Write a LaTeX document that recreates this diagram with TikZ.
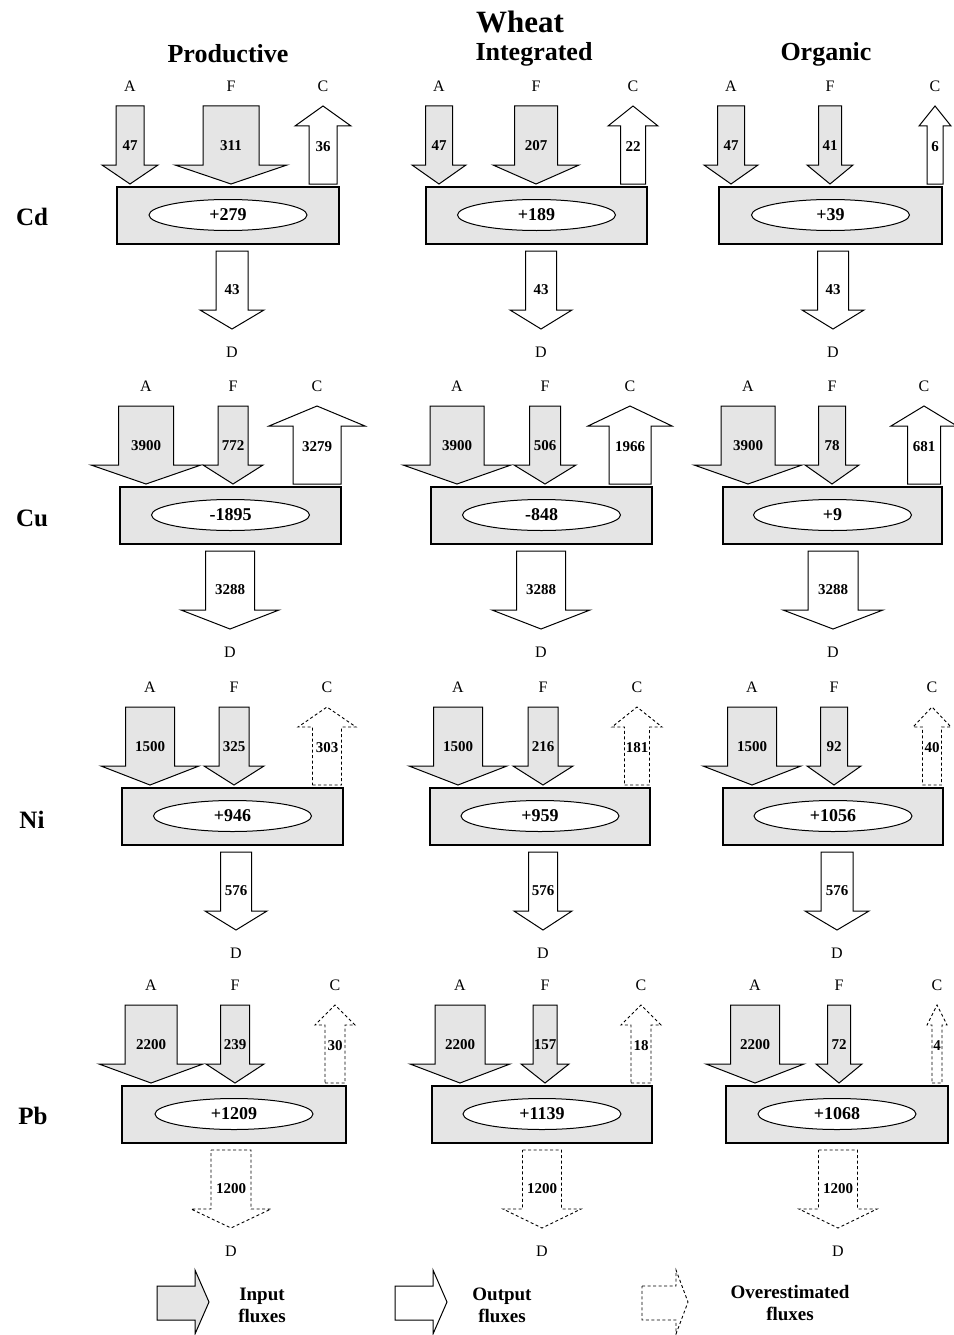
\documentclass[tikz,border=0pt]{standalone}
\usepackage{fontspec}
\setmainfont{Liberation Serif}
\usetikzlibrary{shapes.geometric}

\tikzset{
  influx/.style={draw, line width=1pt, fill=gray!20},
  outflux/.style={draw, line width=1pt, fill=white},
  overflux/.style={draw, line width=0.9pt, dash pattern=on 3pt off 2.5pt, fill=white},
  soil/.style={draw, line width=1.2pt, fill=gray!20},
  balance/.style={ellipse, draw, line width=1pt, fill=white, minimum width=158pt,
    minimum height=31pt, inner sep=0pt, font=\bfseries\fontsize{18}{20}\selectfont},
  fluxval/.style={inner sep=0pt, font=\bfseries\fontsize{15}{17}\selectfont},
  fluxname/.style={inner sep=0pt, font=\fontsize{16}{18}\selectfont},
  metal/.style={inner sep=0pt, font=\bfseries\fontsize{25}{28}\selectfont},
  system/.style={inner sep=0pt, font=\bfseries\fontsize{26}{29}\selectfont},
  legendtext/.style={align=center, inner sep=0pt, font=\bfseries\fontsize{19}{22}\selectfont}
}

% input flux from above: name, letter, x, shaft half width, row top, value
\newcommand{\fluxin}[6]{%
  \draw[influx] (#3-#4,#5) -- (#3+#4,#5) -- (#3+#4,#5+59) -- (#3+2*#4,#5+59)
    -- (#3,#5+78) -- (#3-2*#4,#5+59) -- (#3-#4,#5+59) -- cycle;
  \node[fluxval] (#1) at (#3,#5+40) {#6};
  \node[fluxname] (#1l) at (#3,#5-20) {#2};}
% crop output, going up: style, name, x, shaft half width, row top, value
\newcommand{\fluxup}[6]{%
  \draw[#1] (#3-#4,#5+78) -- (#3+#4,#5+78) -- (#3+#4,#5+20) -- (#3+2*#4,#5+20)
    -- (#3,#5) -- (#3-2*#4,#5+20) -- (#3-#4,#5+20) -- cycle;
  \node[fluxval] (#2) at (#3,#5+41) {#6};
  \node[fluxname] (#2l) at (#3,#5-20) {C};}
% drainage, going down: style, name, x, shaft half width, row top, value
\newcommand{\fluxdrain}[6]{%
  \draw[#1] (#3-#4,#5+145) -- (#3+#4,#5+145) -- (#3+#4,#5+204) -- (#3+2*#4,#5+204)
    -- (#3,#5+223) -- (#3-2*#4,#5+204) -- (#3-#4,#5+204) -- cycle;
  \node[fluxval] (#2) at (#3,#5+184) {#6};
  \node[fluxname] (#2l) at (#3,#5+246) {D};}
% soil box with balance: name, left, right, row top, balance
\newcommand{\soil}[5]{%
  \draw[soil] (#2,#4+81) rectangle (#3,#4+138);
  \node[balance] (#1) at ({(#2+#3)/2},#4+109) {#5};}

\begin{document}
\begin{tikzpicture}[x=1pt,y=-1pt]
\useasboundingbox (0,0) rectangle (953,1335);

\node[system] (wheat) at (520,22) {\fontsize{31}{34}\selectfont Wheat};
\node[system] (prod) at (228,54) {Productive};
\node[system] (integ) at (534,54) {Integrated};
\node[system] (org) at (826,54) {Organic};

\node[metal] (cd) at (32,217) {Cd};
\node[metal] (cu) at (32,518) {Cu};
\node[metal] (ni) at (32,820) {Ni};
\node[metal] (pb) at (33,1116) {Pb};

% Cd
\soil{bal11}{117}{339}{106}{+279}
\fluxin{a11}{A}{130}{14}{106}{47}
\fluxin{f11}{F}{231}{28}{106}{311}
\fluxup{outflux}{c11}{323}{14}{106}{36}
\fluxdrain{outflux}{d11}{232}{16}{106}{43}

\soil{bal12}{426}{647}{106}{+189}
\fluxin{a12}{A}{439}{13.5}{106}{47}
\fluxin{f12}{F}{536}{21.5}{106}{207}
\fluxup{outflux}{c12}{633}{12.5}{106}{22}
\fluxdrain{outflux}{d12}{541}{15.5}{106}{43}

\soil{bal13}{719}{942}{106}{+39}
\fluxin{a13}{A}{731}{13.5}{106}{47}
\fluxin{f13}{F}{830}{11.5}{106}{41}
\fluxup{outflux}{c13}{935}{8}{106}{6}
\fluxdrain{outflux}{d13}{833}{15.5}{106}{43}

% Cu
\soil{bal21}{120}{341}{406}{-1895}
\fluxin{a21}{A}{146}{27.5}{406}{3900}
\fluxin{f21}{F}{233}{15}{406}{772}
\fluxup{outflux}{c21}{317}{24}{406}{3279}
\fluxdrain{outflux}{d21}{230}{24.5}{406}{3288}

\soil{bal22}{431}{652}{406}{-848}
\fluxin{a22}{A}{457}{27}{406}{3900}
\fluxin{f22}{F}{545}{15.5}{406}{506}
\fluxup{outflux}{c22}{630}{21}{406}{1966}
\fluxdrain{outflux}{d22}{541}{24.5}{406}{3288}

\soil{bal23}{723}{942}{406}{+9}
\fluxin{a23}{A}{748}{27}{406}{3900}
\fluxin{f23}{F}{832}{13.5}{406}{78}
\fluxup{outflux}{c23}{924}{16.5}{406}{681}
\fluxdrain{outflux}{d23}{833}{25}{406}{3288}

% Ni
\soil{bal31}{122}{343}{707}{+946}
\fluxin{a31}{A}{150}{24.5}{707}{1500}
\fluxin{f31}{F}{234}{15}{707}{325}
\fluxup{overflux}{c31}{327}{14.5}{707}{303}
\fluxdrain{outflux}{d31}{236}{15.5}{707}{576}

\soil{bal32}{430}{650}{707}{+959}
\fluxin{a32}{A}{458}{24.5}{707}{1500}
\fluxin{f32}{F}{543}{15}{707}{216}
\fluxup{overflux}{c32}{637}{12.5}{707}{181}
\fluxdrain{outflux}{d32}{543}{14.5}{707}{576}

\soil{bal33}{723}{943}{707}{+1056}
\fluxin{a33}{A}{752}{24.5}{707}{1500}
\fluxin{f33}{F}{834}{13.5}{707}{92}
\fluxup{overflux}{c33}{932}{9.5}{707}{40}
\fluxdrain{outflux}{d33}{837}{16}{707}{576}

% Pb
\soil{bal41}{122}{346}{1005}{+1209}
\fluxin{a41}{A}{151}{26}{1005}{2200}
\fluxin{f41}{F}{235}{14.5}{1005}{239}
\fluxup{overflux}{c41}{335}{10}{1005}{30}
\fluxdrain{overflux}{d41}{231}{20}{1005}{1200}

\soil{bal42}{432}{652}{1005}{+1139}
\fluxin{a42}{A}{460}{25}{1005}{2200}
\fluxin{f42}{F}{545}{12}{1005}{157}
\fluxup{overflux}{c42}{641}{10}{1005}{18}
\fluxdrain{overflux}{d42}{542}{19.5}{1005}{1200}

\soil{bal43}{726}{948}{1005}{+1068}
\fluxin{a43}{A}{755}{24.5}{1005}{2200}
\fluxin{f43}{F}{839}{11.5}{1005}{72}
\fluxup{overflux}{c43}{937}{5}{1005}{4}
\fluxdrain{overflux}{d43}{838}{19.5}{1005}{1200}

% legend
\draw[influx] (157,1286) -- (195,1286) -- (195,1270) -- (209,1302) -- (195,1334) -- (195,1320) -- (157,1320) -- cycle;
\node[legendtext] (lin) at (262,1305) {Input\\fluxes};
\draw[outflux] (395,1286) -- (433,1286) -- (433,1270) -- (447,1302) -- (433,1334) -- (433,1320) -- (395,1320) -- cycle;
\node[legendtext] (lout) at (502,1305) {Output\\fluxes};
\draw[overflux] (642,1286) -- (676,1286) -- (676,1270) -- (688,1302) -- (676,1334) -- (676,1320) -- (642,1320) -- cycle;
\node[legendtext] (lover) at (790,1303) {Overestimated\\fluxes};
\end{tikzpicture}
\end{document}
